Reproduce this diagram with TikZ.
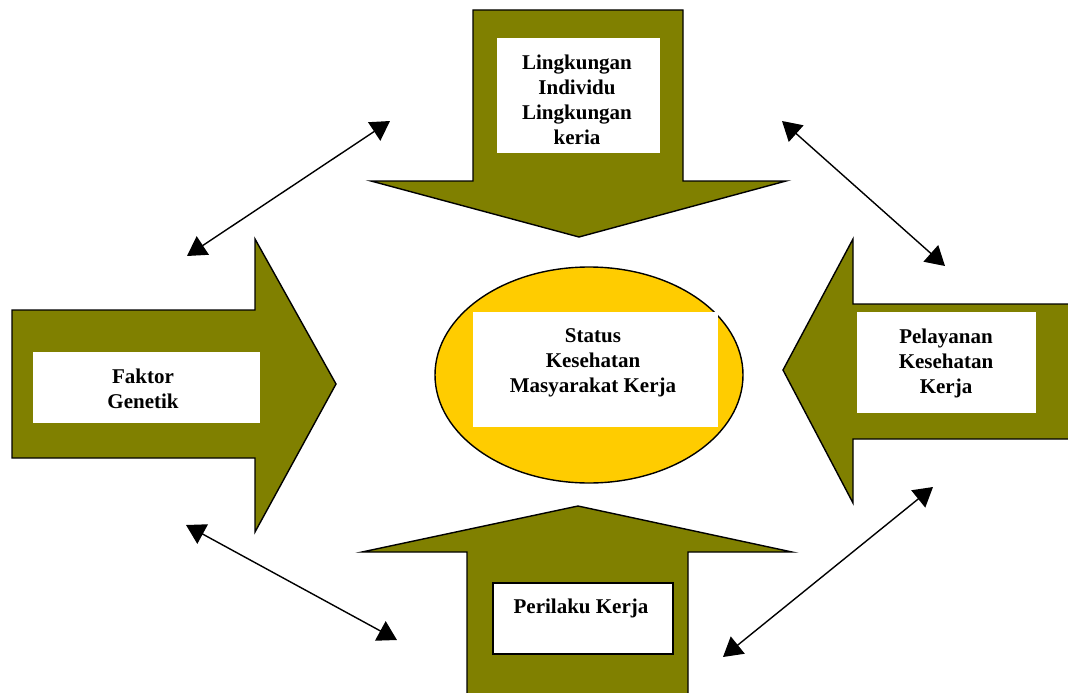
\documentclass[tikz,border=0pt]{standalone}
\usepackage{fontspec}
\setmainfont{Liberation Serif}
\usetikzlibrary{arrows.meta}
\definecolor{olivefill}{HTML}{808000}
\definecolor{goldfill}{HTML}{FFCC00}
\begin{document}
\begin{tikzpicture}[x=1pt,y=-1pt,
  bigarrow/.style={fill=olivefill,draw=black,line width=1.4pt,line join=miter},
  labelbox/.style={fill=white,draw=none,inner sep=0pt},
  labeltext/.style={font=\bfseries\fontsize{21}{25}\selectfont,align=center,inner sep=0pt},
  link/.style={line width=1.4pt,
    {Triangle[length=19pt,width=22pt]}-{Triangle[length=19pt,width=22pt]}}]
\useasboundingbox (0,0) rectangle (1068,693);
\clip (0,0) rectangle (1068,693);

% four block arrows pointing at the centre
\draw[bigarrow] (473,10) -- (683,10) -- (683,181) -- (786,181) -- (579,237)
  -- (371,181) -- (473,181) -- cycle;
\draw[bigarrow] (12,310) -- (255,310) -- (255,239) -- (336,384) -- (255,532)
  -- (255,458) -- (12,458) -- cycle;
\draw[bigarrow] (1085,304) -- (853,304) -- (853,239) -- (783,370) -- (853,503)
  -- (853,439) -- (1085,439) -- cycle;
\draw[bigarrow] (467,710) -- (467,552) -- (362,552) -- (578,506) -- (792,552)
  -- (688,552) -- (688,710) -- cycle;

% central ellipse
\draw[fill=goldfill,line width=1.4pt] (589,375) ellipse [x radius=154, y radius=108];

% white label boxes
\node[labelbox,minimum width=163pt,minimum height=115pt] (topbox) at (578.5,95.5) {};
\node[labelbox,minimum width=227pt,minimum height=71pt] (leftbox) at (146.5,387.5) {};
\node[labelbox,minimum width=179pt,minimum height=101pt] (rightbox) at (946.5,362.5) {};
\node[labelbox,minimum width=245pt,minimum height=115pt] (centrebox) at (595.5,369.5) {};
\node[labelbox,draw=black,line width=1.2pt,minimum width=180pt,minimum height=71pt] (bottombox) at (583,618.5) {};

% labels
\node[labeltext] (toptext) at (577,100) {Lingkungan\\Individu\\Lingkungan\\keria};
\node[labeltext] (lefttext) at (143,388.5) {Faktor\\Genetik};
\node[labeltext] (righttext) at (946,363) {Pelayanan\\Kesehatan\\Kerja};
\node[labeltext] (centretext) at (593,363) {Status\\Kesehatan\\Masyarakat Kerja};
\node[labeltext] (bottomtext) at (581,608) {Perilaku Kerja};

% two-headed links between neighbouring factors
\coordinate (tl1) at (187,256);
\coordinate (tl2) at (390,121);
\coordinate (tr1) at (782,121);
\coordinate (tr2) at (945,266);
\coordinate (bl1) at (186,525);
\coordinate (bl2) at (397,640);
\coordinate (br1) at (723,657);
\coordinate (br2) at (933,487);
\draw[link] (tl1) -- (tl2);
\draw[link] (tr1) -- (tr2);
\draw[link] (bl1) -- (bl2);
\draw[link] (br1) -- (br2);
\end{tikzpicture}
\end{document}
